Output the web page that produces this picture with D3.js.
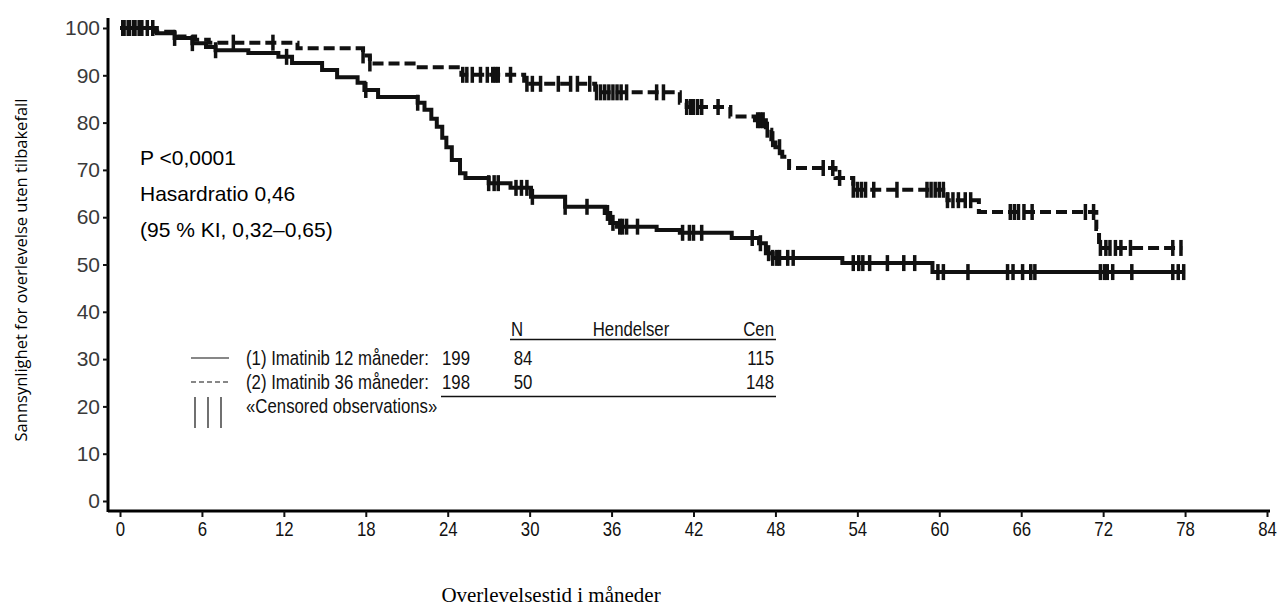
<!DOCTYPE html>
<html>
<head>
<meta charset="utf-8">
<script src="https://cdn.jsdelivr.net/npm/d3@7"></script>
<style>
  html, body { margin: 0; padding: 0; background: #fff; }
  svg { display: block; }
</style>
</head>
<body>
<script>
// Kaplan-Meier steps (months, percent)
const arm1Times = [0, 2.7, 4.0, 5.3, 6.3, 7.0, 9.4, 11.6, 12.6, 14.8, 15.9, 17.4, 17.9, 18.9, 21.8, 22.3, 22.8, 23.2, 23.6, 23.9, 24.3, 24.9, 25.3, 27.0, 28.6, 30.1, 32.6, 35.5, 35.9, 36.4, 39.3, 41.0, 44.8, 46.8, 47.3, 47.8, 52.9, 59.5];
const arm1Surv = [100, 98.9, 97.9, 96.8, 96.0, 95.3, 94.7, 93.9, 92.6, 91.1, 89.6, 88.4, 86.9, 85.4, 84.2, 82.7, 80.8, 79.1, 76.8, 74.8, 72.1, 69.3, 68.3, 67.2, 66.2, 64.3, 62.2, 60.9, 58.8, 58.0, 57.3, 56.7, 55.6, 54.5, 52.4, 51.4, 50.3, 48.4];
const arm1End = 78;
const arm1Censored = [0.3, 0.7, 1.1, 1.6, 2.4, 4.0, 5.3, 7.0, 12.2, 18.0, 21.8, 27.0, 27.4, 27.7, 29.0, 29.4, 29.8, 30.2, 32.6, 34.2, 35.7, 36.1, 36.6, 36.8, 37.1, 37.9, 41.2, 41.7, 42.0, 42.6, 46.3, 46.9, 47.5, 47.8, 48.1, 48.3, 48.9, 49.3, 53.7, 54.1, 54.4, 54.9, 56.2, 57.4, 58.2, 59.9, 60.3, 62.1, 65.0, 65.4, 66.1, 66.7, 67.0, 71.8, 72.1, 72.3, 72.7, 74.1, 77.1, 77.5, 77.9];

const arm2Times = [0, 2.5, 4.2, 5.5, 6.5, 13.0, 17.8, 18.3, 21.5, 25.0, 29.6, 34.8, 41.0, 41.5, 44.7, 46.5, 47.3, 47.7, 48.0, 48.5, 49.0, 52.4, 53.7, 60.6, 62.9, 71.5, 71.7];
const arm2Surv = [100, 99.2, 98.2, 97.5, 96.9, 95.7, 94.2, 92.5, 91.7, 90.1, 88.2, 86.4, 84.2, 83.3, 81.3, 80.5, 78.5, 76.5, 74.8, 72.8, 70.4, 68.3, 65.8, 63.6, 61.1, 57.5, 53.5];
const arm2End = 77.8;
const arm2Censored = [0.2, 0.6, 1.0, 1.4, 2.0, 8.3, 11.2, 17.8, 18.3, 25.1, 25.4, 25.8, 26.4, 26.9, 27.3, 27.5, 27.7, 28.6, 29.8, 30.2, 30.8, 32.1, 33.0, 33.5, 34.4, 34.9, 35.2, 35.5, 35.8, 36.1, 36.4, 36.7, 37.1, 39.3, 39.8, 41.5, 41.8, 42.0, 42.3, 42.6, 43.8, 46.7, 46.9, 47.1, 47.4, 47.8, 48.3, 51.5, 52.2, 52.7, 53.7, 54.0, 54.3, 54.6, 55.2, 56.9, 59.1, 59.4, 59.7, 60.0, 60.3, 60.6, 61.0, 61.4, 61.9, 62.3, 65.2, 65.5, 65.8, 66.2, 66.8, 70.7, 71.3, 71.8, 72.2, 72.5, 72.9, 73.3, 74.0, 77.1, 77.7];

const xTicks = [0, 6, 12, 18, 24, 30, 36, 42, 48, 54, 60, 66, 72, 78, 84];
const yTicks = [0, 10, 20, 30, 40, 50, 60, 70, 80, 90, 100];

const statLines = ["P <0,0001", "Hasardratio 0,46", "(95 % KI, 0,32\u20130,65)"];
const tableHeader = ["N", "Hendelser", "Cen"];
const armLabels = ["(1) Imatinib 12 m\u00e5neder:", "(2) Imatinib 36 m\u00e5neder:"];
const armN = [199, 198];
const armEvents = [84, 50];
const armCensored = [115, 148];

const width = 1280;
const height = 607;

const sans = "'Liberation Sans', Arial, sans-serif";
const squeeze = 0.84; // legend and x labels are drawn condensed in the original

const svg = d3.select("body")
  .append("svg")
  .attr("width", width)
  .attr("height", height);

const x = d3.scaleLinear().domain([0, 84]).range([120, 1267]);
const y = d3.scaleLinear().domain([0, 100]).range([501, 28]);

// axes
const xAxis = svg.append("g")
  .attr("transform", "translate(0,511)")
  .call(d3.axisBottom(x).tickValues(xTicks).tickSize(6).tickPadding(5).tickSizeOuter(0));
xAxis.select(".domain").attr("d", "M108,0H1270").attr("stroke-width", 3);
xAxis.selectAll(".tick text")
  .attr("fill", "#111")
  .attr("transform", "scale(" + squeeze + ",1)")
  .style("font-family", sans)
  .style("font-size", "20px");

const yAxis = svg.append("g")
  .attr("transform", "translate(108,0)")
  .call(d3.axisLeft(y).tickValues(yTicks).tickSize(5).tickPadding(3).tickSizeOuter(0));
yAxis.select(".domain").attr("d", "M0,18V512").attr("stroke-width", 3);
yAxis.selectAll(".tick text")
  .attr("fill", "#3a3a3a")
  .style("font-family", sans)
  .style("font-size", "21px");

svg.selectAll(".tick line").attr("stroke", "#111").attr("stroke-width", 2);

// axis titles
svg.append("text")
  .attr("transform", "translate(27,270) rotate(-90)")
  .attr("text-anchor", "middle")
  .style("font-family", "'Open Sans', sans-serif")
  .style("font-size", "16.5px")
  .text("Sannsynlighet for overlevelse uten tilbakefall");

svg.append("text")
  .attr("x", 551)
  .attr("y", 602)
  .attr("text-anchor", "middle")
  .style("font-family", "'Liberation Serif', 'Times New Roman', serif")
  .style("font-size", "21px")
  .text("Overlevelsestid i m\u00e5neder");

// curves
function stepData(times, surv, end) {
  const pts = times.map((t, i) => [t, surv[i]]);
  pts.push([end, surv[surv.length - 1]]);
  return pts;
}

function survAt(times, surv, t) {
  const i = d3.bisectRight(times, t) - 1;
  return surv[Math.max(0, i)];
}

const line = d3.line()
  .x(d => x(d[0]))
  .y(d => y(d[1]))
  .curve(d3.curveStepAfter);

const arms = [
  { times: arm1Times, surv: arm1Surv, end: arm1End, cens: arm1Censored, dash: null },
  { times: arm2Times, surv: arm2Surv, end: arm2End, cens: arm2Censored, dash: "11,5" }
];

arms.forEach(a => {
  svg.append("path")
    .datum(stepData(a.times, a.surv, a.end))
    .attr("d", line)
    .attr("fill", "none")
    .attr("stroke", "#111")
    .attr("stroke-width", 4)
    .attr("stroke-dasharray", a.dash);

  svg.append("g")
    .selectAll("line")
    .data(a.cens)
    .enter()
    .append("line")
    .attr("x1", d => x(d))
    .attr("x2", d => x(d))
    .attr("y1", d => y(survAt(a.times, a.surv, d)) - 8)
    .attr("y2", d => y(survAt(a.times, a.surv, d)) + 8)
    .attr("stroke", "#111")
    .attr("stroke-width", 3.5);
});

// statistics text
svg.append("g")
  .selectAll("text")
  .data(statLines)
  .enter()
  .append("text")
  .attr("x", 140)
  .attr("y", (d, i) => 165 + i * 36)
  .style("font-family", sans)
  .style("font-size", "21px")
  .text(d => d);

// legend table
const leg = svg.append("g")
  .style("font-family", sans)
  .style("font-size", "20px")
  .attr("fill", "#111");

function legText(tx, ty, str, anchor) {
  leg.append("text")
    .attr("transform", "translate(" + tx + "," + ty + ") scale(" + squeeze + ",1)")
    .attr("text-anchor", anchor || "start")
    .text(str);
}

const headX = [511, 631, 774];
const headAnchor = ["start", "middle", "end"];
tableHeader.forEach((h, i) => legText(headX[i], 336, h, headAnchor[i]));
leg.append("line")
  .attr("x1", 510).attr("x2", 776)
  .attr("y1", 339.5).attr("y2", 339.5)
  .attr("stroke", "#111").attr("stroke-width", 1.5);

armLabels.forEach((lab, i) => {
  const yy = 365 + i * 24;
  leg.append("line")
    .attr("x1", 191).attr("x2", 229)
    .attr("y1", yy - 7).attr("y2", yy - 7)
    .attr("stroke", "#111")
    .attr("stroke-width", 1.2)
    .attr("stroke-dasharray", i === 0 ? null : "5,3");
  legText(246, yy, lab);
  legText(442, yy, armN[i]);
  legText(523, yy, armEvents[i], "middle");
  legText(774, yy, armCensored[i], "end");
});
leg.append("line")
  .attr("x1", 441).attr("x2", 776)
  .attr("y1", 396.5).attr("y2", 396.5)
  .attr("stroke", "#111").attr("stroke-width", 1.5);

[195, 208, 221].forEach(cx => {
  leg.append("line")
    .attr("x1", cx).attr("x2", cx)
    .attr("y1", 397).attr("y2", 428)
    .attr("stroke", "#111").attr("stroke-width", 1.2);
});
legText(246, 413, "\u00abCensored observations\u00bb");
</script>
</body>
</html>
